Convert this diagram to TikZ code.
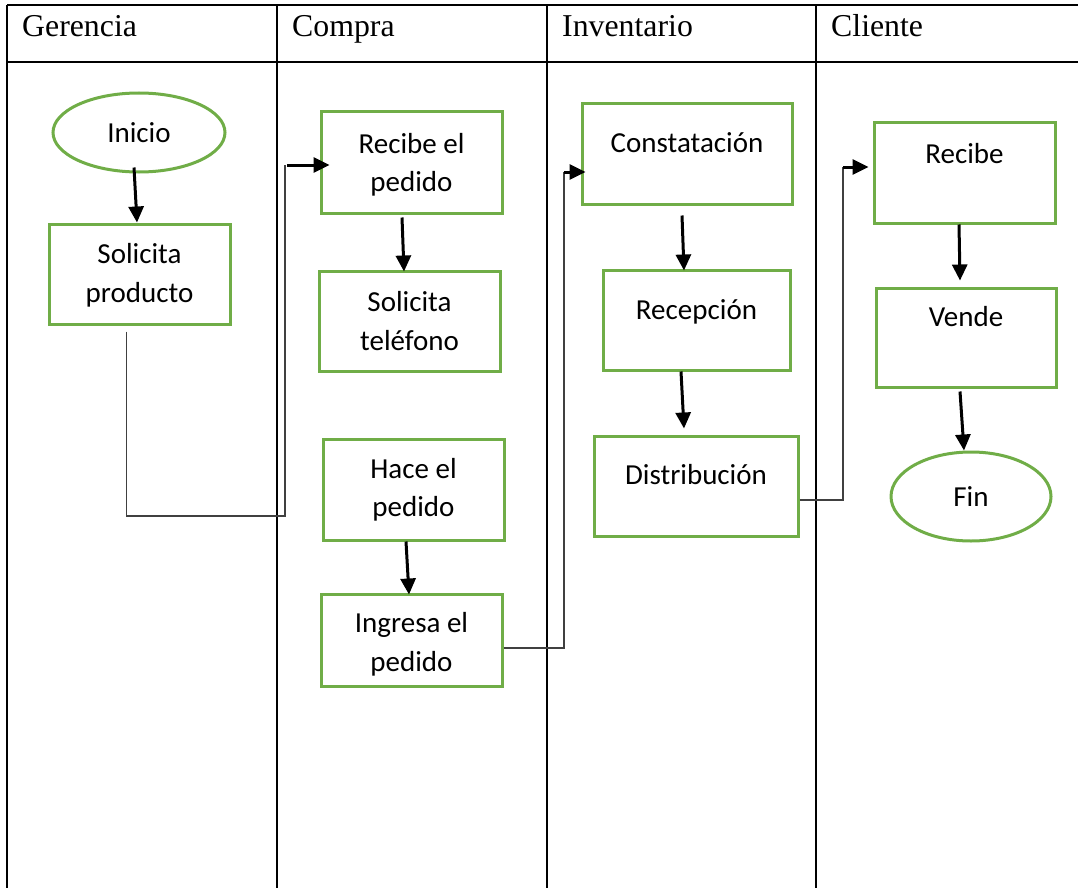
\documentclass[tikz,border=0pt]{standalone}
\usepackage{fontspec}
\setmainfont{Liberation Serif}
\newfontfamily\calfont{Carlito}
\usetikzlibrary{arrows.meta,shapes.geometric,calc}
\definecolor{boxgreen}{HTML}{70AD47}
\definecolor{linegray}{HTML}{404040}
\begin{document}
\begin{tikzpicture}[x=1pt,y=-1pt,
  lane/.style={line width=2pt,draw=black},
  head/.style={font=\fontsize{31.8}{38}\selectfont, anchor=base west, inner sep=0pt},
  stepbox/.style={draw=boxgreen, line width=3pt, rectangle, inner sep=0pt},
  term/.style={draw=boxgreen, line width=3pt, ellipse, inner sep=0pt,
    font=\calfont\fontsize{29}{38.5}\selectfont},
  lbl/.style={font=\calfont\fontsize{29}{38.5}\selectfont, align=center, inner sep=0pt, anchor=base},
  arr/.style={line width=3pt, -{Triangle[length=16pt,width=15pt]}},
  link/.style={line width=1.3pt, draw=linegray}
]
\useasboundingbox (0,0) rectangle (1078,888);
% table
\draw[lane] (7,5) -- (1078,5);
\draw[lane] (7,62) -- (1078,62);
\foreach \x in {7,277,547,816} \draw[lane] (\x,5) -- (\x,888);
% headers
\node[head] (hg) at (22,36.5) {Gerencia};
\node[head] (hc) at (292,36.5) {Compra};
\node[head] (hi) at (562,36.5) {Inventario};
\node[head] (hk) at (831,36.5) {Cliente};
% Gerencia
\node[term, minimum width=172pt, minimum height=79pt] (ini) at (139,132.5) {Inicio};
\node[stepbox, minimum width=181pt, minimum height=100pt] (sp) at (139.5,274) {};
\node[lbl] (tsp) at ([yshift=-79.5pt]sp.north) {Solicita\\producto};
% Compra
\node[stepbox, minimum width=181pt, minimum height=101pt] (rp) at (411.5,162.5) {};
\node[lbl] (trp) at ([yshift=-81pt]rp.north) {Recibe el\\pedido};
\node[stepbox, minimum width=181pt, minimum height=100pt] (st) at (409.5,321) {};
\node[lbl] (tst) at ([yshift=-80.5pt]st.north) {Solicita\\teléfono};
\node[stepbox, minimum width=181pt, minimum height=101pt] (hp) at (413.5,489.5) {};
\node[lbl] (thp) at ([yshift=-79pt]hp.north) {Hace el\\pedido};
\node[stepbox, minimum width=181pt, minimum height=92pt] (ip) at (411.5,640) {};
\node[lbl] (tip) at ([yshift=-78.5pt]ip.north) {Ingresa el\\pedido};
% Inventario
\node[stepbox, minimum width=210pt, minimum height=100pt] (ct) at (687,154) {};
\node[lbl] (tct) at ([yshift=-50.5pt]ct.north) {Constatación};
\node[stepbox, minimum width=187pt, minimum height=100pt] (rc) at (696.5,320) {};
\node[lbl] (trc) at ([yshift=-50.5pt]rc.north) {Recepción};
\node[stepbox, minimum width=204pt, minimum height=100pt] (ds) at (696,486) {};
\node[lbl] (tds) at ([yshift=-49.5pt]ds.north) {Distribución};
% Cliente
\node[stepbox, minimum width=181pt, minimum height=100pt] (rb) at (964.5,173) {};
\node[lbl] (trb) at ([yshift=-41.5pt]rb.north) {Recibe};
\node[stepbox, minimum width=180pt, minimum height=99pt] (vd) at (966,337.5) {};
\node[lbl] (tvd) at ([yshift=-39.5pt]vd.north) {Vende};
\node[term, minimum width=160pt, minimum height=89pt] (fin) at (971,496.5) {Fin};
% thick arrows
\draw[arr] ([xshift=-5pt,yshift=6pt]ini.south) -- ([xshift=-2.5pt]sp.north);
\draw[arr] ([xshift=-9.5pt,yshift=-3pt]rp.south) -- ([xshift=-5.5pt,yshift=-2pt]st.north);
\draw[arr] ([xshift=-7.5pt]hp.south) -- ([xshift=-2.5pt,yshift=-2pt]ip.north);
\draw[arr] ([xshift=-5pt,yshift=-10pt]ct.south) -- ([xshift=-12.5pt,yshift=-2pt]rc.north);
\draw[arr] ([xshift=-15.5pt]rc.south) -- ([xshift=-12pt,yshift=6pt]ds.north);
\draw[arr] ([xshift=-5.5pt]rb.south) -- ([xshift=-6pt,yshift=6pt]vd.north);
\draw[arr] ([xshift=-6pt,yshift=-3pt]vd.south) -- ([xshift=-7pt]fin.north);
% thin links between lanes
\coordinate (ca1) at (285,516);
\coordinate (ca2) at (285,165);
\draw[link] ([xshift=-13pt,yshift=-6pt]sp.south) |- (ca1) -- (ca2);
\draw[arr] ($(ca2)+(2,0)$) -- ($(rp.west|-ca2)+(10,0)$);
\coordinate (cb1) at (564,648);
\coordinate (cb2) at (564,172);
\draw[link] ([yshift=-8pt]ip.east) -- (cb1) -- (cb2);
\draw[arr] (cb2) -- ($(ct.west|-cb2)+(5,0)$);
\coordinate (cc1) at (843,500);
\coordinate (cc2) at (843,167);
\draw[link] ([yshift=-14pt]ds.east) -- (cc1) -- (cc2);
\draw[arr] (cc2) -- ($(rb.west|-cc2)+(-4,0)$);
\end{tikzpicture}
\end{document}
